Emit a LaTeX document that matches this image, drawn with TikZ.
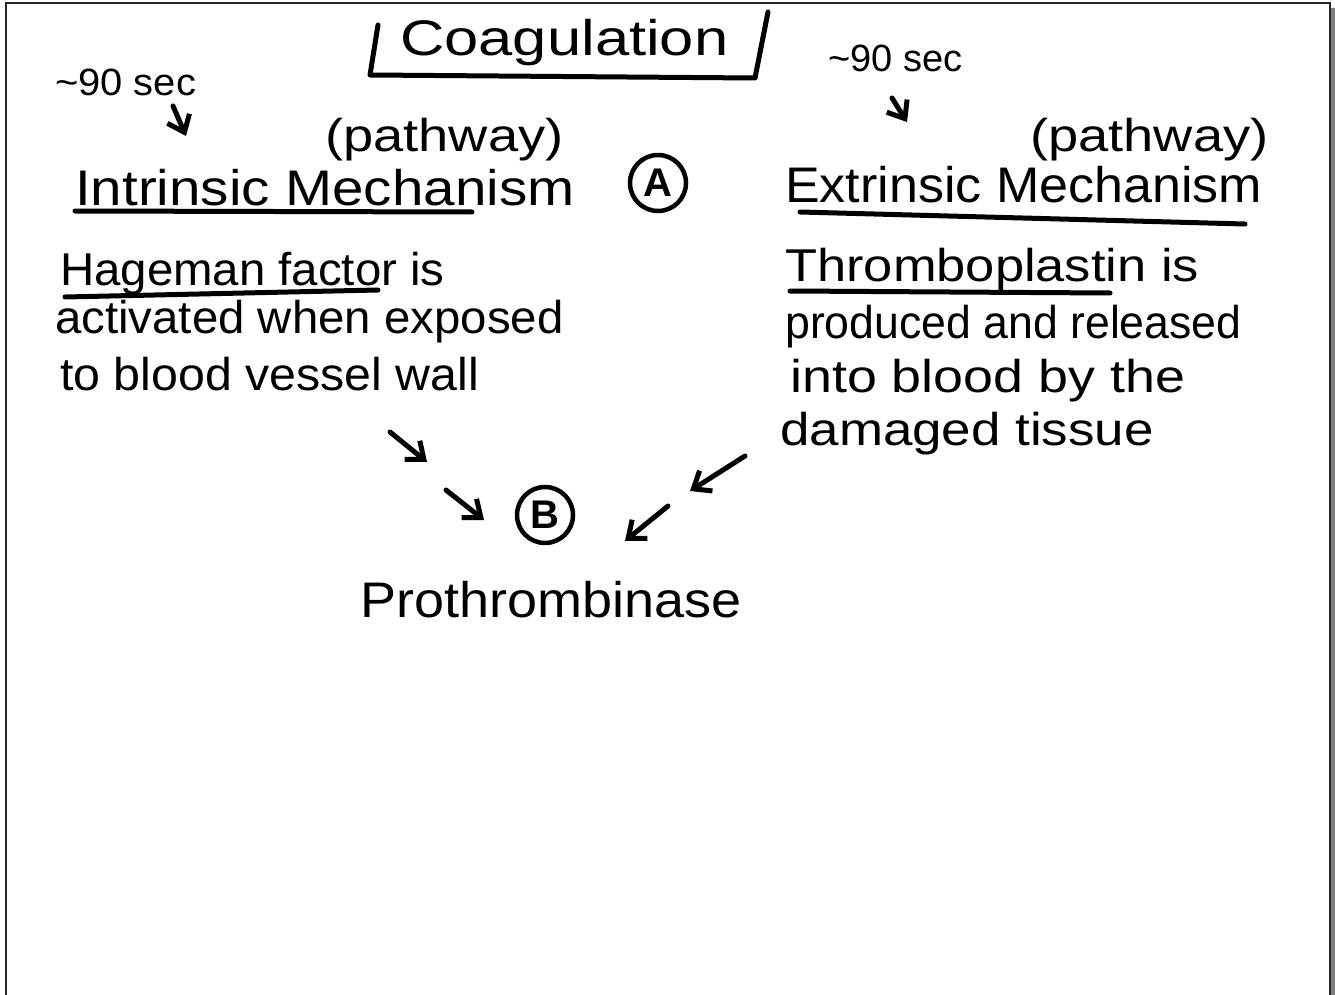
\documentclass[tikz,border=0pt]{standalone}
\usepackage{graphicx}
\usepackage{fontspec}
\setmainfont{Liberation Sans}
\usetikzlibrary{arrows.meta}
\newcommand{\hx}[2]{\scalebox{#1}[1]{#2}}
\tikzset{
  hw/.style={anchor=base west, inner sep=0pt, font=\fontsize{46}{54}\selectfont},
  hwbig/.style={hw, font=\fontsize{50}{58}\selectfont},
  hwsmall/.style={hw, font=\fontsize{38}{44}\selectfont},
  ink/.style={line width=5pt, line cap=round, line join=round},
  arr/.style={ink, -{Straight Barb[length=15pt, width=24pt, line width=5pt]}},
  ring/.style={ink, line width=4.5pt, circle, draw, minimum size=56pt, inner sep=0pt, font=\fontsize{40}{46}\selectfont\bfseries},
  frame/.style={line width=2pt, draw=black!85},
}
\begin{document}
\begin{tikzpicture}[x=1pt, y=-1pt]
\useasboundingbox (0,0) rectangle (1335,995);
% page frame
\fill[black!50] (1331,8) rectangle (1335,995);
\draw[frame] (6,995) -- (6,3) -- (1330,3) -- (1330,995);
% title
\node[hwbig] (title) at (400,56) {\hx{1.23}{Coagulation}};
\draw[ink] (378,25) -- (370,75) -- (755,78) -- (768,12);
% left header
\node[hwsmall] (t90l) at (55,96) {\hx{1.05}{\textasciitilde 90 sec}};
\coordinate (t90ls) at (173,106);
\coordinate (t90le) at (186,136);
\draw[arr] (t90ls) -- (t90le);
\node[hw] (pathl) at (325,152) {\hx{1.18}{(pathway)}};
\node[hwbig] (intr) at (75,205) {\hx{1.13}{Intrinsic Mechanism}};
\draw[ink] (75,211) -- (472,212);
\node[ring] (A) at (658,183) {A};
% right header
\node[hwsmall] (t90r) at (828,72) {\textasciitilde 90 sec};
\coordinate (t90rs) at (892,98);
\coordinate (t90re) at (907,122);
\draw[arr] (t90rs) -- (t90re);
\node[hw] (pathr) at (1030,152) {\hx{1.18}{(pathway)}};
\node[hwbig] (extr) at (785,203) {\hx{1.04}{Extrinsic Mechanism}};
\draw[ink] (800,212) -- (1245,224);
% left body
\node[hw] (l1) at (60,285) {\hx{1.03}{Hageman factor is}};
\draw[ink] (65,297) -- (378,290);
\node[hw] (l2) at (55,333) {\hx{1.03}{activated when exposed}};
\node[hw] (l3) at (60,390) {\hx{1.05}{to blood vessel wall}};
% right body
\node[hw] (r1) at (785,281) {\hx{1.14}{Thromboplastin is}};
\draw[ink] (790,291) -- (1110,293);
\node[hw] (r2) at (785,338) {\hx{0.97}{produced and released}};
\node[hw] (r3) at (790,392) {\hx{1.17}{into blood by the}};
\node[hw] (r4) at (780,445) {\hx{1.15}{damaged tissue}};
% convergence
\node[ring] (B) at (545,515) {B};
\coordinate (a1s) at (390,432); \coordinate (a1e) at (427,462);
\coordinate (a2s) at (446,490); \coordinate (a2e) at (484,520);
\coordinate (a3s) at (745,456); \coordinate (a3e) at (690,491);
\coordinate (a4s) at (668,506); \coordinate (a4e) at (625,541);
\draw[arr] (a1s) -- (a1e);
\draw[arr] (a2s) -- (a2e);
\draw[arr] (a3s) -- (a3e);
\draw[arr] (a4s) -- (a4e);
\node[hwbig] (prot) at (360,617) {\hx{1.08}{Prothrombinase}};
\end{tikzpicture}
\end{document}
